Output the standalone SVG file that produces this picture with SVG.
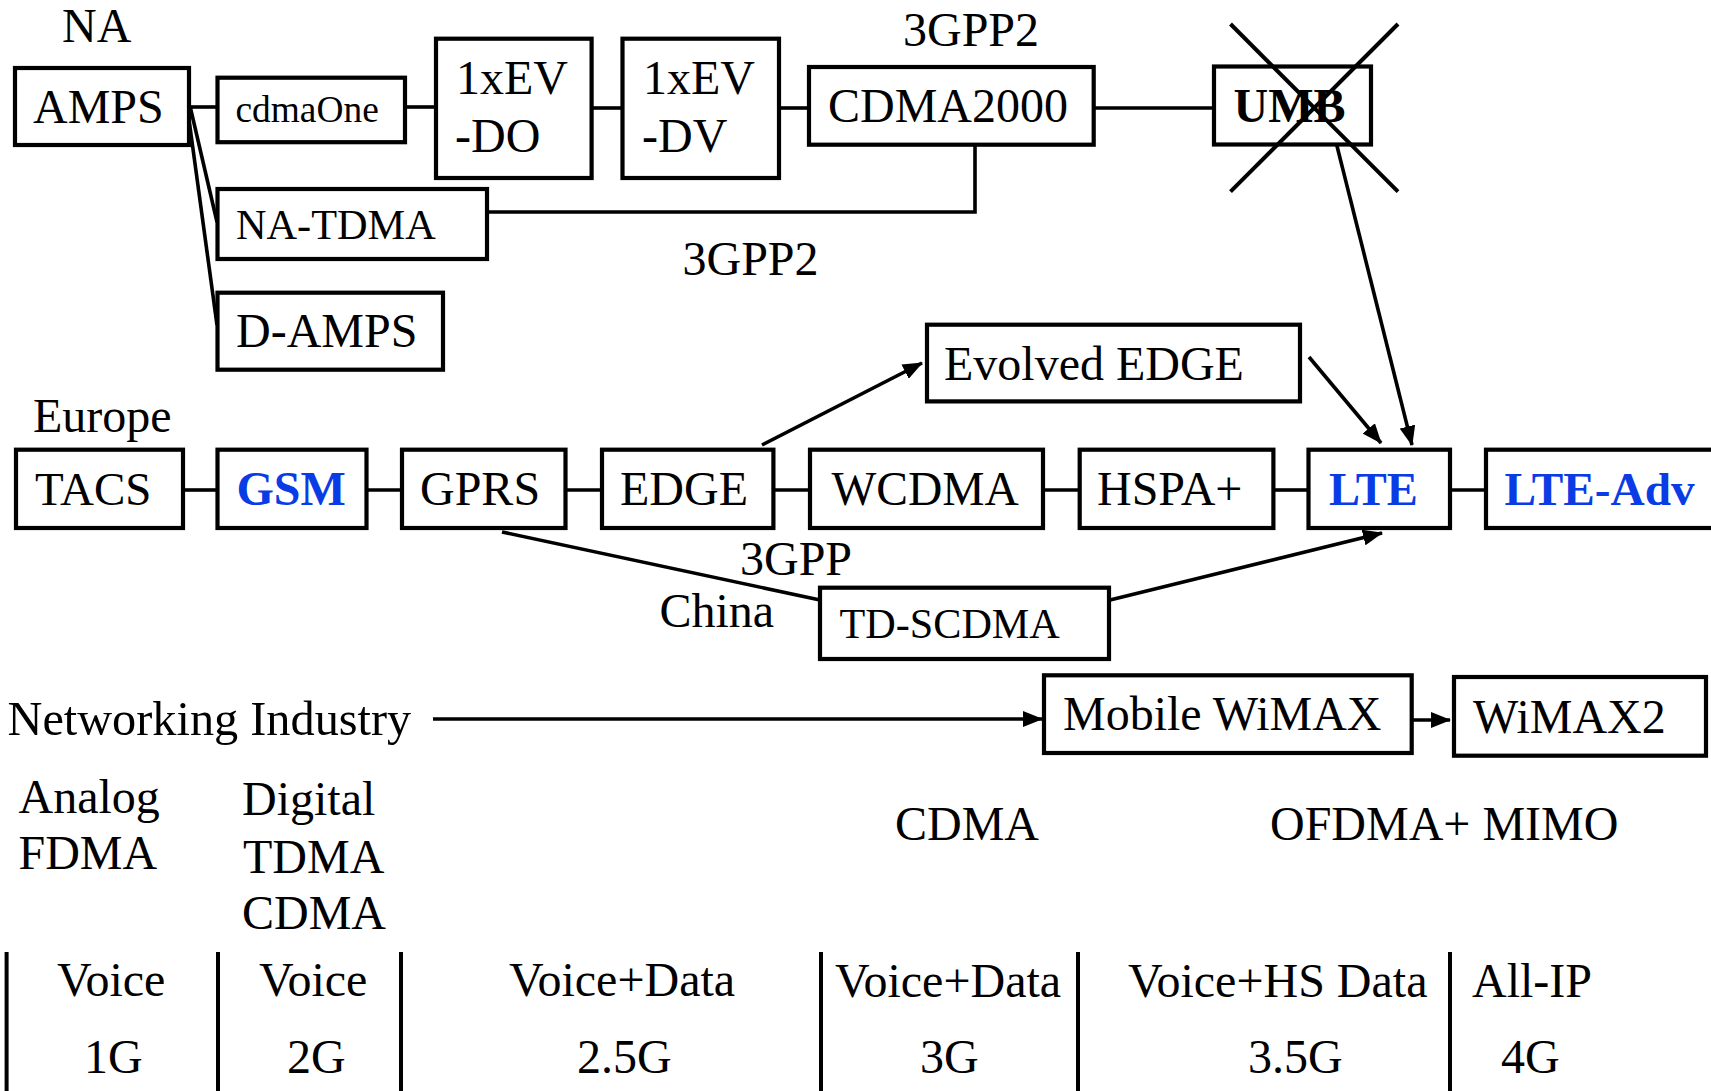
<svg xmlns="http://www.w3.org/2000/svg" width="1711" height="1091" viewBox="0 0 1711 1091">
<style>
text{font-family:"Liberation Serif","Times New Roman",serif;font-size:48px;fill:#000}
.b{font-weight:bold}
.blue{fill:#0a3ce6}
.box{fill:#fff;stroke:#000;stroke-width:4.2}
.ln{stroke:#000;stroke-width:3.6;fill:none}
.ar{stroke:#000;stroke-width:3.6;fill:none;marker-end:url(#ah)}
.sep{stroke:#000;stroke-width:4}
</style>
<defs>
<marker id="ah" markerUnits="userSpaceOnUse" markerWidth="20" markerHeight="16" refX="19" refY="8" orient="auto">
<path d="M0,0 L20,8 L0,16 z" fill="#000"/>
</marker>
</defs>
<rect width="1711" height="1091" fill="#fff"/>

<g id="connectors">
<line class="ln" x1="189" y1="107" x2="217" y2="107"/>
<line class="ln" x1="190" y1="106" x2="217" y2="222"/>
<line class="ln" x1="187" y1="105" x2="217" y2="325"/>
<line class="ln" x1="407" y1="107" x2="436" y2="107"/>
<line class="ln" x1="593" y1="108" x2="622" y2="108"/>
<line class="ln" x1="781" y1="108" x2="809" y2="108"/>
<line class="ln" x1="1095" y1="108" x2="1214" y2="108"/>
<polyline class="ln" points="489,212 975,212 975,146"/>
<line class="ln" x1="185" y1="490" x2="216" y2="490"/>
<line class="ln" x1="368" y1="490" x2="401" y2="490"/>
<line class="ln" x1="567" y1="490" x2="601" y2="490"/>
<line class="ln" x1="775" y1="490" x2="809" y2="490"/>
<line class="ln" x1="1045" y1="490" x2="1078" y2="490"/>
<line class="ln" x1="1275" y1="490" x2="1307" y2="490"/>
<line class="ln" x1="1452" y1="490" x2="1485" y2="490"/>
<line class="ar" x1="762" y1="445" x2="922" y2="363"/>
<line class="ar" x1="1309" y1="357" x2="1381" y2="443"/>
<line class="ar" x1="1335" y1="138" x2="1412" y2="445"/>
<line class="ln" x1="502" y1="532" x2="820" y2="600"/>
<line class="ar" x1="1110" y1="600" x2="1382" y2="533"/>
<line class="ar" x1="433" y1="719" x2="1042" y2="719"/>
<line class="ar" x1="1413" y1="720" x2="1450" y2="720"/>
</g>

<g id="AMPS"><rect class="box" x="15" y="68" width="174" height="77"/><text x="33" y="123">AMPS</text></g>
<g id="cdmaOne"><rect class="box" x="217.5" y="77.7" width="187.5" height="64.5"/><text x="235.5" y="122" style="font-size:37.4px">cdmaOne</text></g>
<g id="EVDO"><rect class="box" x="436" y="38.7" width="155.6" height="139.3"/><text x="456" y="94">1xEV</text><text x="455" y="152">-DO</text></g>
<g id="EVDV"><rect class="box" x="622.5" y="38.7" width="156.5" height="139.3"/><text x="643" y="94">1xEV</text><text x="642" y="152">-DV</text></g>
<g id="CDMA2000"><rect class="box" x="809" y="67" width="284.7" height="77.7"/><text x="828" y="122">CDMA2000</text></g>
<g id="UMB"><rect class="box" x="1214" y="66.5" width="157" height="78"/><text class="b" x="1233.5" y="122">UMB</text>
<line class="ln" x1="1230.5" y1="24" x2="1398" y2="191.7" style="stroke-width:4"/><line class="ln" x1="1398" y1="24" x2="1230.5" y2="191.7" style="stroke-width:4"/></g>
<g id="NA-TDMA"><rect class="box" x="217.5" y="189" width="269.5" height="70"/><text x="236" y="239" style="font-size:42.3px">NA-TDMA</text></g>
<g id="D-AMPS"><rect class="box" x="217.5" y="292.7" width="225.5" height="77"/><text x="236" y="347">D-AMPS</text></g>
<g id="EvolvedEDGE"><rect class="box" x="927" y="324.7" width="373" height="76.7"/><text x="944" y="380">Evolved EDGE</text></g>

<g id="TACS"><rect class="box" x="16" y="449.7" width="167" height="78.3"/><text x="35" y="505" style="font-size:47px">TACS</text></g>
<g id="GSM"><rect class="box" x="217.5" y="449.7" width="149" height="78.3"/><text class="b blue" x="236.5" y="505">GSM</text></g>
<g id="GPRS"><rect class="box" x="402" y="449.7" width="163.5" height="78.3"/><text x="420" y="505">GPRS</text></g>
<g id="EDGE"><rect class="box" x="602" y="449.7" width="171.4" height="78.3"/><text x="620" y="505">EDGE</text></g>
<g id="WCDMA"><rect class="box" x="810" y="449.7" width="233" height="78.3"/><text x="831.5" y="505" style="font-size:47.5px">WCDMA</text></g>
<g id="HSPA"><rect class="box" x="1079.7" y="449.7" width="193.7" height="78.3"/><text x="1097" y="505">HSPA+</text></g>
<g id="LTE"><rect class="box" x="1308.5" y="449.7" width="141.5" height="78.3"/><text class="b blue" x="1329" y="505" style="font-size:46.5px">LTE</text></g>
<g id="LTE-Adv"><rect class="box" x="1486" y="449.7" width="300" height="78.3"/><text class="b blue" x="1504.5" y="505" style="font-size:47.3px">LTE-Adv</text></g>
<g id="TD-SCDMA"><rect class="box" x="820" y="587.7" width="289" height="71.3"/><text x="839.5" y="638.3" style="font-size:42.2px">TD-SCDMA</text></g>
<g id="MobileWiMAX"><rect class="box" x="1044" y="675.3" width="367.7" height="77.7"/><text x="1063" y="730">Mobile WiMAX</text></g>
<g id="WiMAX2"><rect class="box" x="1454" y="677" width="252" height="78.7"/><text x="1473" y="733.3">WiMAX2</text></g>

<g id="labels">
<text x="62" y="42">NA</text>
<text x="903" y="46">3GPP2</text>
<text x="682.5" y="275">3GPP2</text>
<text x="33" y="432">Europe</text>
<text x="740" y="575">3GPP</text>
<text x="659.5" y="626.7">China</text>
<text x="7.5" y="735" style="font-size:48.3px">Networking Industry</text>
<text x="18.5" y="813.3">Analog</text>
<text x="18.5" y="869.3">FDMA</text>
<text x="242" y="815">Digital</text>
<text x="243" y="872.7">TDMA</text>
<text x="242" y="929.3">CDMA</text>
<text x="895" y="840">CDMA</text>
<text x="1270" y="840">OFDMA+ MIMO</text>
</g>

<g id="generations">
<line class="sep" x1="6.6" y1="952" x2="6.6" y2="1091"/>
<line class="sep" x1="218" y1="952" x2="218" y2="1091"/>
<line class="sep" x1="401" y1="952" x2="401" y2="1091"/>
<line class="sep" x1="821" y1="952" x2="821" y2="1091"/>
<line class="sep" x1="1078" y1="952" x2="1078" y2="1091"/>
<line class="sep" x1="1450" y1="952" x2="1450" y2="1091"/>
<text x="57" y="996">Voice</text>
<text x="259" y="996">Voice</text>
<text x="509" y="996">Voice+Data</text>
<text x="835" y="997">Voice+Data</text>
<text x="1128" y="997">Voice+HS Data</text>
<text x="1472" y="997">All-IP</text>
<text x="84" y="1073">1G</text>
<text x="287" y="1073">2G</text>
<text x="577" y="1073">2.5G</text>
<text x="920" y="1073">3G</text>
<text x="1248" y="1073">3.5G</text>
<text x="1501" y="1073">4G</text>
</g>
</svg>
